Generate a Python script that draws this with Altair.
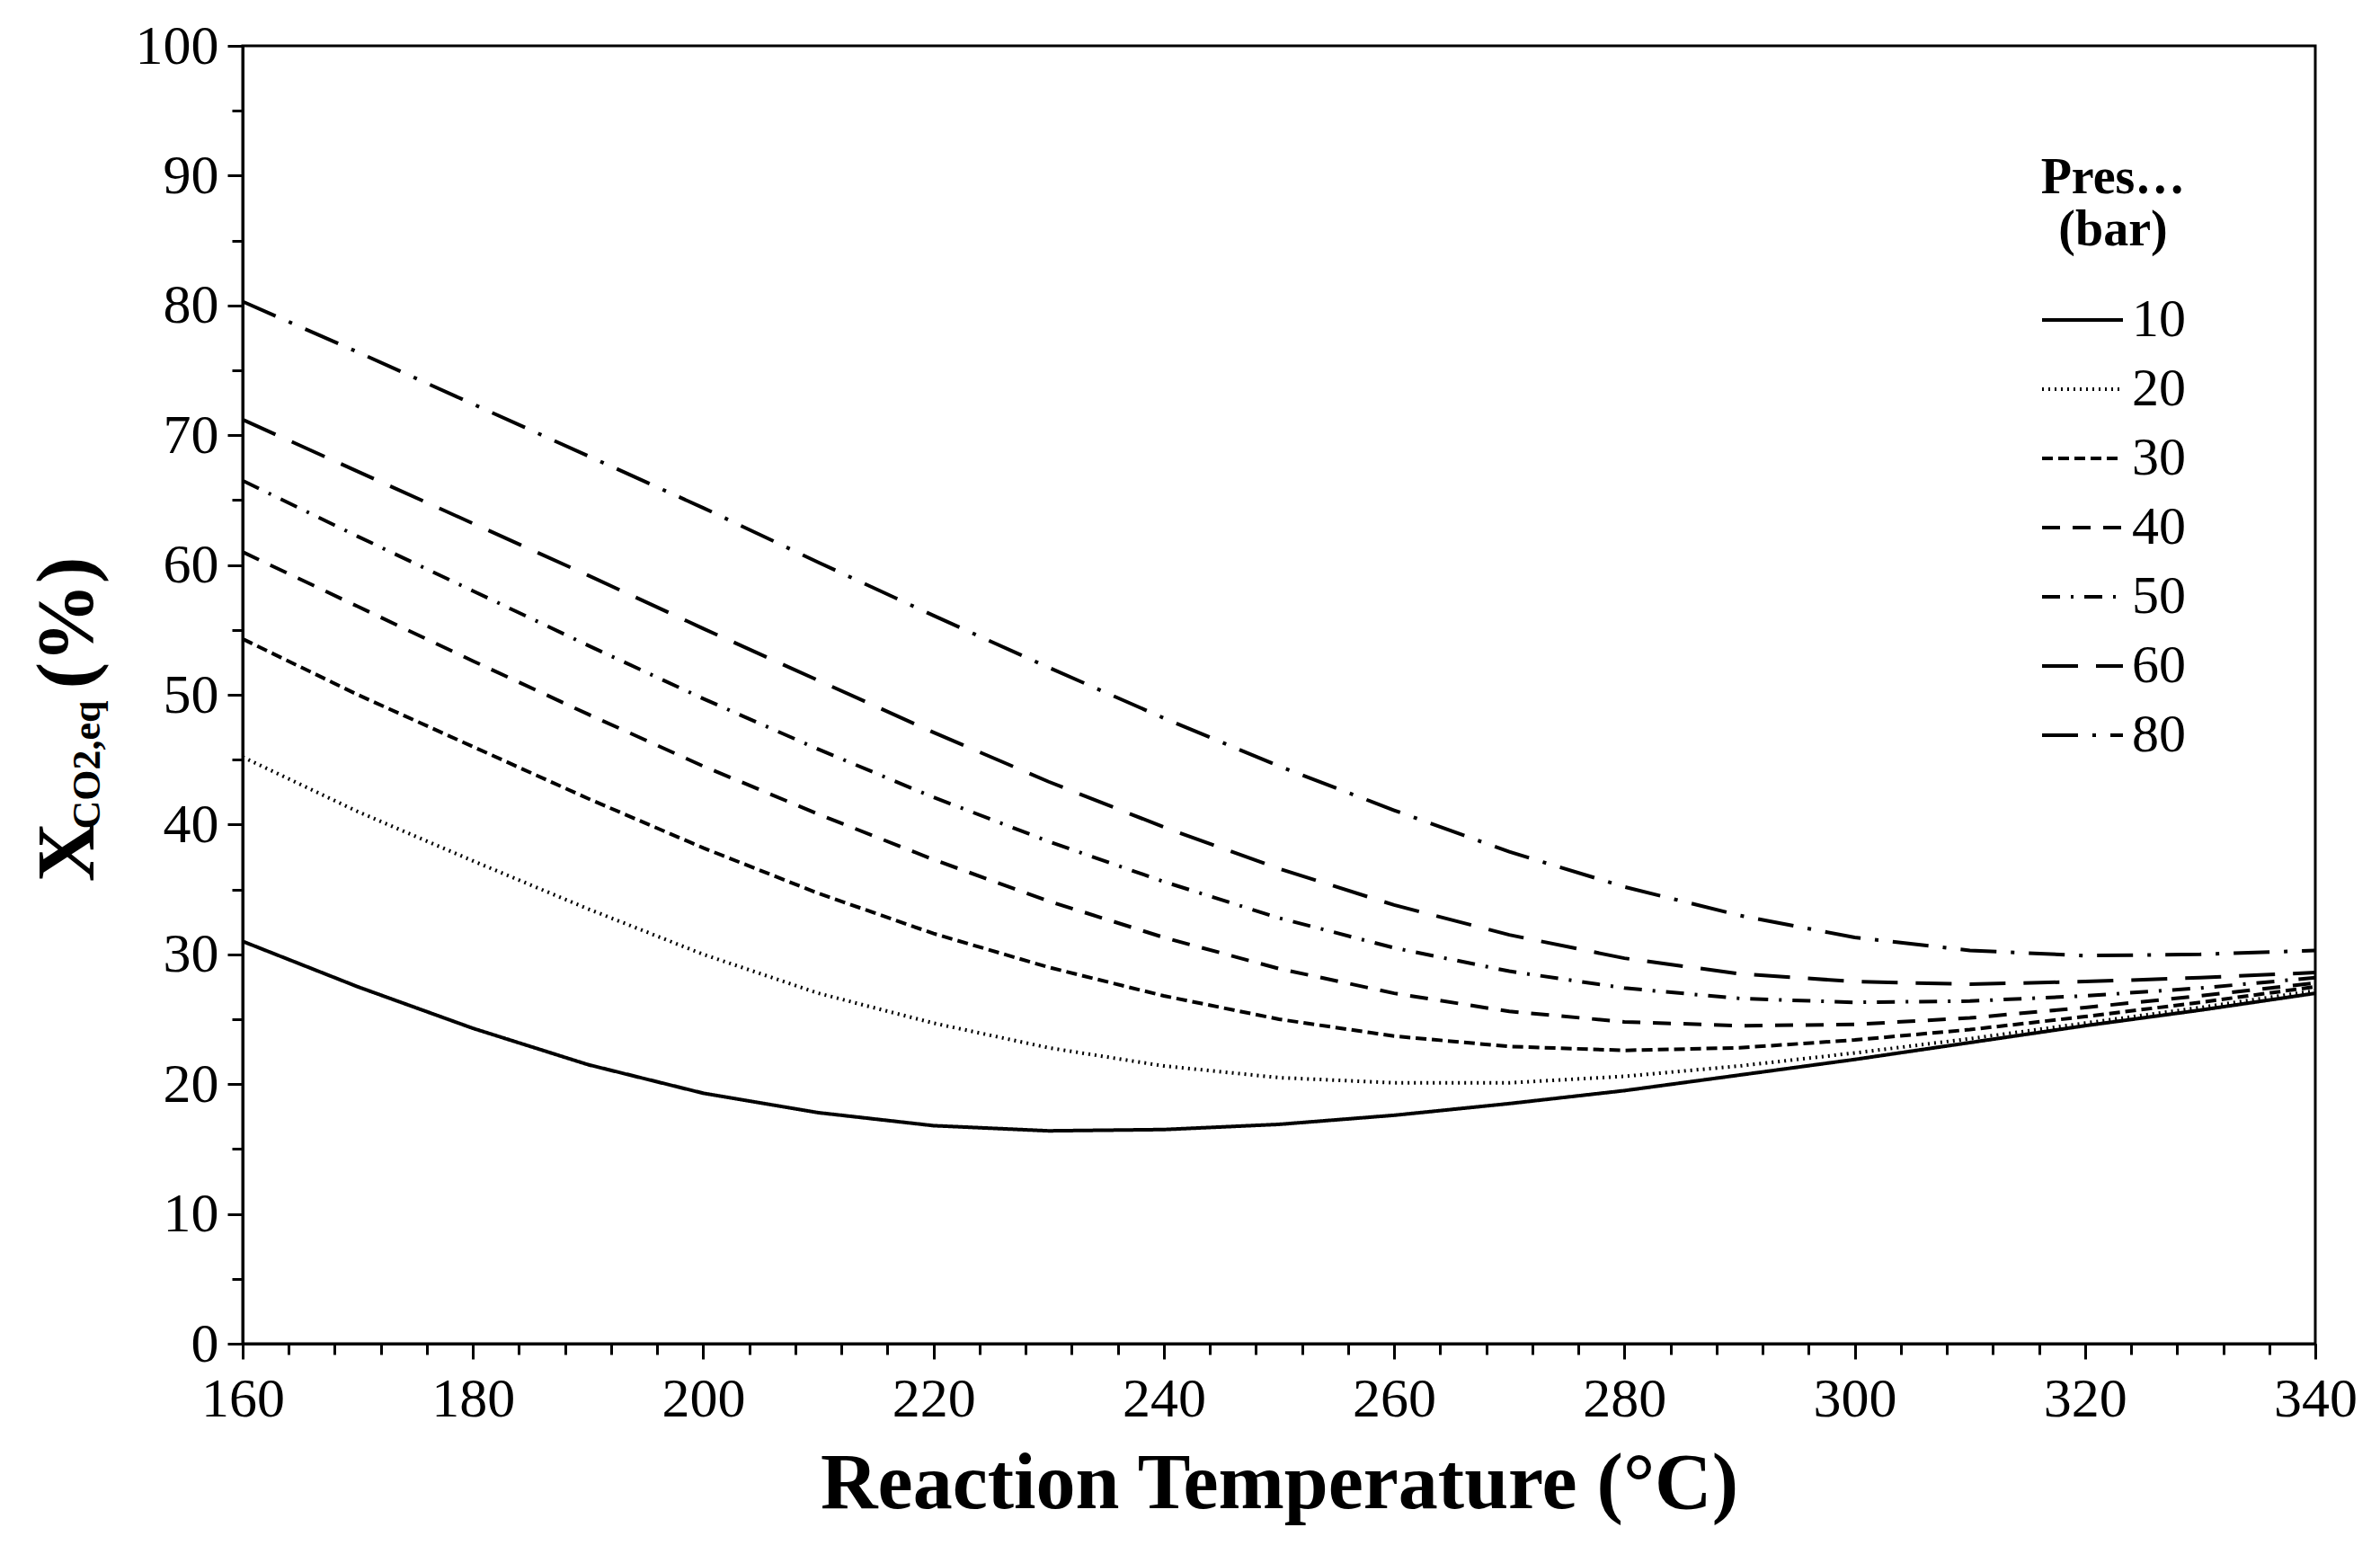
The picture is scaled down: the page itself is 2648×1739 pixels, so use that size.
import pandas as pd
import altair as alt

temps = list(range(160, 341, 10))
pressures = ["10", "20", "30", "40", "50", "60", "80"]
x10 = [31, 27.5, 24.3, 21.5, 19.3, 17.8, 16.8, 16.4, 16.5, 16.9, 17.6, 18.5, 19.5, 20.7, 21.9, 23.2, 24.5, 25.7, 27.0]
x20 = [45.2, 41, 37.2, 33.5, 30, 27, 24.7, 22.8, 21.4, 20.5, 20.1, 20.1, 20.6, 21.4, 22.4, 23.5, 24.7, 25.9, 27.2]
x30 = [54.3, 50, 46, 42, 38.2, 34.7, 31.6, 29, 26.8, 25, 23.7, 22.9, 22.6, 22.8, 23.4, 24.2, 25.2, 26.3, 27.5]
x40 = [61, 56.8, 52.6, 48.5, 44.5, 40.8, 37.3, 34.1, 31.3, 28.9, 27, 25.6, 24.8, 24.5, 24.6, 25.1, 25.9, 26.8, 27.8]
x50 = [66.5, 62.2, 58, 53.8, 49.7, 45.8, 42.1, 38.7, 35.6, 32.8, 30.5, 28.7, 27.4, 26.6, 26.3, 26.4, 26.8, 27.4, 28.2]
x60 = [71.2, 67.2, 63.2, 59.2, 55.1, 51.1, 47.1, 43.3, 39.8, 36.6, 33.8, 31.5, 29.7, 28.5, 27.9, 27.7, 27.9, 28.2, 28.6]
x80 = [80.3, 76.4, 72.4, 68.4, 64.4, 60.2, 56.1, 52.1, 48.2, 44.5, 41.1, 37.9, 35.2, 33, 31.3, 30.3, 29.9, 30.0, 30.3]
series = [x10, x20, x30, x40, x50, x60, x80]
dashes = [[1, 0], [2, 5], [12, 6], [20, 14], [20, 12, 3, 12], [40, 20], [40, 16, 4, 16]]

rows = []
for p, vals in zip(pressures, series):
    for t, v in zip(temps, vals):
        rows.append({"T": t, "X": v, "P": p})
data = pd.DataFrame(rows)

FONT = "Liberation Serif"

lines = alt.Chart(data).mark_line(color="black", strokeWidth=4).encode(
    x=alt.X("T:Q", scale=alt.Scale(domain=[160, 340], nice=False),
            axis=alt.Axis(values=list(range(160, 341, 20)), title="Reaction Temperature (°C)",
                          titleFontSize=88, titleFont=FONT, titleFontWeight="bold", titleColor="black",
                          titlePadding=20, labelFont=FONT, labelFontSize=62, labelColor="black",
                          labelPadding=14, labelFlush=False, tickSize=17, tickWidth=3, tickColor="black",
                          domainColor="black", domainWidth=3, grid=False, orient="bottom")),
    y=alt.Y("X:Q", scale=alt.Scale(domain=[0, 100], nice=False),
            axis=alt.Axis(values=list(range(0, 101, 10)), title=None,
                          labelFont=FONT, labelFontSize=62, labelColor="black", labelPadding=10,
                          labelFlush=False, tickSize=17, tickWidth=3, tickColor="black",
                          domainColor="black", domainWidth=3, grid=False, orient="left")),
    strokeDash=alt.StrokeDash("P:N", scale=alt.Scale(domain=pressures, range=dashes),
                              legend=alt.Legend(title=["Pressure", "(bar)"], orient="none",
                                                legendX=2000, legendY=120, titleFont=FONT,
                                                titleFontSize=56, titleFontWeight="bold", titleColor="black",
                                                titleAlign="center", titleAnchor="middle", titlePadding=24,
                                                labelFont=FONT, labelFontSize=60, labelColor="black",
                                                symbolType="stroke", symbolSize=8100, symbolStrokeWidth=4,
                                                symbolStrokeColor="black", rowPadding=-44, labelOffset=8)),
)

minor = alt.Chart(data).mark_point(opacity=0).encode(
    x=alt.X("T:Q", scale=alt.Scale(domain=[160, 340], nice=False),
            axis=alt.Axis(values=list(range(160, 341, 4)), labels=False, title=None, tickSize=12,
                          tickWidth=3, tickColor="black", domain=False, grid=False, orient="bottom")),
    y=alt.Y("X:Q", scale=alt.Scale(domain=[0, 100], nice=False),
            axis=alt.Axis(values=list(range(0, 101, 5)), labels=False, title=None, tickSize=12,
                          tickWidth=3, tickColor="black", domain=False, grid=False, orient="left")),
)

ytitle = pd.DataFrame({"s": ["X"]})
t_x = alt.Chart(ytitle).mark_text(text="X", font=FONT, fontSize=92, fontWeight="bold", angle=270,
                                  align="center", baseline="middle", color="black").encode(
    x=alt.value(-194), y=alt.value(897))
t_sub = alt.Chart(ytitle).mark_text(text="CO2,eq", font=FONT, fontSize=44, fontWeight="bold", angle=270,
                                    align="center", baseline="middle", color="black").encode(
    x=alt.value(-172), y=alt.value(800))
t_pct = alt.Chart(ytitle).mark_text(text="(%)", font=FONT, fontSize=88, fontWeight="bold", angle=270,
                                    align="center", baseline="middle", color="black").encode(
    x=alt.value(-194), y=alt.value(642))

chart = alt.layer(minor, lines, t_x, t_sub, t_pct).resolve_axis(x="independent", y="independent").properties(
    width=2306, height=1444, autosize="none",
    padding={"left": 262, "top": 43, "right": 64, "bottom": 236},
    background="white",
).configure_view(stroke="black", strokeWidth=3)

chart.save("out.html", embed_options={"renderer": "svg", "actions": False})
